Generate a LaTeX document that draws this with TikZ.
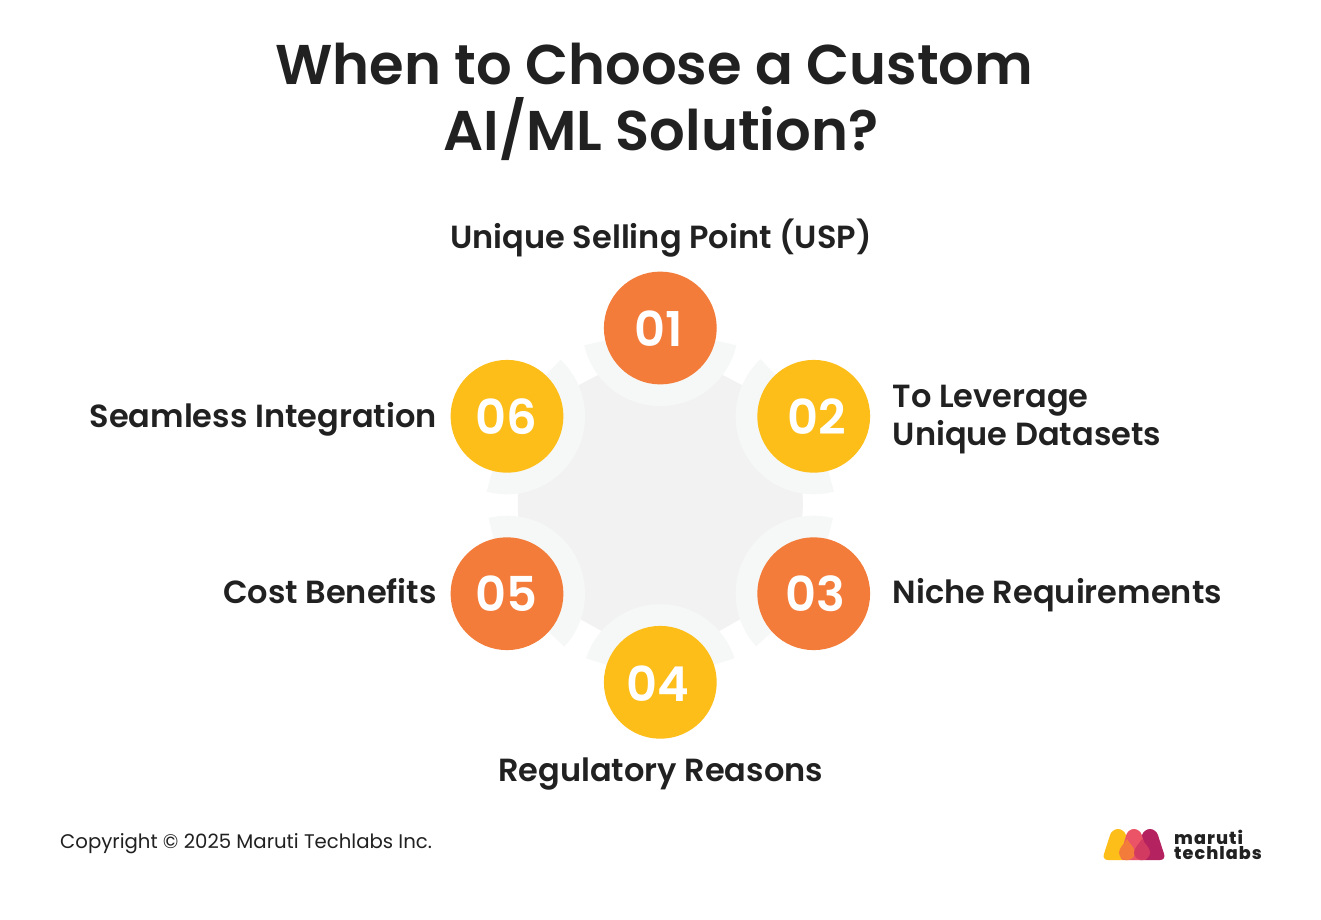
\documentclass[tikz,border=0pt]{standalone}
\usepackage{fontspec}
\setmainfont{Poppins}[BoldFont=Poppins SemiBold]
\newfontfamily\logofont{Poppins}[UprightFont=* ExtraBold,LetterSpace=6]
\definecolor{ink}{HTML}{212121}
\definecolor{discfill}{HTML}{F2F2F2}
\definecolor{ringfill}{HTML}{F6F8F7}
\definecolor{orangefill}{HTML}{F47C3A}
\definecolor{yellowfill}{HTML}{FDBE1A}
\definecolor{logoy}{HTML}{FDBE1A}
\definecolor{logoo}{HTML}{F47C3A}
\definecolor{logop}{HTML}{EA5466}
\definecolor{logom}{HTML}{B4235F}
\definecolor{logod}{HTML}{D33A62}
\tikzset{
  x=1bp,y=-1bp,
  titlestyle/.style={text=ink,inner sep=0pt,anchor=base,font=\fontsize{56bp}{66.5bp}\selectfont\bfseries},
  labelstyle/.style={text=ink,inner sep=0pt,font=\fontsize{32bp}{38bp}\selectfont\bfseries},
  numdisc/.style={circle,minimum size=112.8bp,inner sep=0pt},
  numtext/.style={text=white,inner sep=0pt,anchor=base,font=\fontsize{48bp}{48bp}\selectfont\bfseries},
  copystyle/.style={text=ink,inner sep=0pt,anchor=base west,font=\fontsize{19.7bp}{24bp}\selectfont},
  logotext/.style={text=ink,inner sep=0pt,anchor=base west,font=\fontsize{17.6bp}{17.6bp}\logofont},
}
\newcommand{\ringsector}[3]{\fill[ringfill] (#1) -- ++({78*cos(#2)},{-78*sin(#2)}) arc[start angle=#2,end angle=#3,x radius=78,y radius=-78] -- cycle;}
\newcommand{\logodome}[3]{\fill[#1,rounded corners=6bp] ({#2-6},829) -- ({#2+6},829) -- ({#2+#3+2},860) -- ({#2-#3-2},860) -- cycle;}
\newcommand{\logodrop}[2]{\fill[#1] (#2,839) .. controls ({#2+3},844) and ({#2+8},848) .. ({#2+8},852.5) .. controls ({#2+8},857) and ({#2+4},860) .. (#2,860) .. controls ({#2-4},860) and ({#2-8},857) .. ({#2-8},852.5) .. controls ({#2-8},848) and ({#2-3},844) .. (#2,839) -- cycle;}
\begin{document}
\begin{tikzpicture}
\useasboundingbox (0,0) rectangle (1321,919);
\fill[white] (0,0) rectangle (1321,919);
\coordinate (c1) at (660.3,328);
\coordinate (c2) at (813.7,416.3);
\coordinate (c3) at (813.7,593.7);
\coordinate (c4) at (660.3,682.3);
\coordinate (c5) at (507,593.7);
\coordinate (c6) at (507,416.3);
% centre disc
\fill[discfill] (598,375) -- (579,385) -- (518.3,490) .. controls (517.6,499) and (517.6,508) .. (518.3,516.7) -- (580,619) -- (601.7,631) -- (719.3,631) -- (740,619.3) -- (802.3,516.7) .. controls (803,508) and (803,499) .. (802.3,490) -- (742.3,385.3) -- (722.7,375) -- cycle;
% rings
\ringsector{c1}{192.8}{347.2}
\ringsector{c2}{132.9}{285}
\ringsector{c3}{75.7}{222.4}
\ringsector{c4}{18}{162}
\ringsector{c5}{-42.6}{103.7}
\ringsector{c6}{-105}{46.6}
% numbered discs
\node[numdisc,fill=orangefill] (n1) at (c1) {};
\node[numdisc,fill=yellowfill] (n2) at (c2) {};
\node[numdisc,fill=orangefill] (n3) at (c3) {};
\node[numdisc,fill=yellowfill] (n4) at (c4) {};
\node[numdisc,fill=orangefill] (n5) at (c5) {};
\node[numdisc,fill=yellowfill] (n6) at (c6) {};
\node[numtext] (t1) at (658.3,346) {01};
\node[numtext] (t2) at (816.5,434) {02};
\node[numtext] (t3) at (815.5,611) {03};
\node[numtext] (t4) at (658,701) {04};
\node[numtext] (t5) at (506,611) {05};
\node[numtext] (t6) at (506,434) {06};
% text
\node[titlestyle] (title1) at (654.3,84) {When to Choose a Custom};
\node[titlestyle] (title2) at (660.8,150) {AI/ML Solution?};
\node[labelstyle,anchor=base] (l1) at (661,248) {Unique Selling Point (USP)};
\node[labelstyle,anchor=base west] (l2a) at (892.5,407) {To Leverage};
\node[labelstyle,anchor=base west] (l2b) at (892.5,445) {Unique Datasets};
\node[labelstyle,anchor=base west] (l3) at (892.5,603) {Niche Requirements};
\node[labelstyle,anchor=base] (l4) at (660.6,781) {Regulatory Reasons};
\node[labelstyle,anchor=base east] (l5) at (436.8,603) {Cost Benefits};
\node[labelstyle,anchor=base east] (l6) at (436.8,427) {Seamless Integration};
\node[copystyle] (copy) at (60,848) {Copyright © 2025 Maruti Techlabs Inc.};
% logo
\logodome{logoy}{1118}{14}
\logodome{logom}{1150}{14}
\logodome{logop}{1134}{13}
\logodrop{logoo}{1127}
\logodrop{logod}{1142}
\node[logotext] (logo1) at (1174,844.5) {maruti};
\node[logotext] (logo2) at (1174,859.5) {techlabs};
\end{tikzpicture}
\end{document}
